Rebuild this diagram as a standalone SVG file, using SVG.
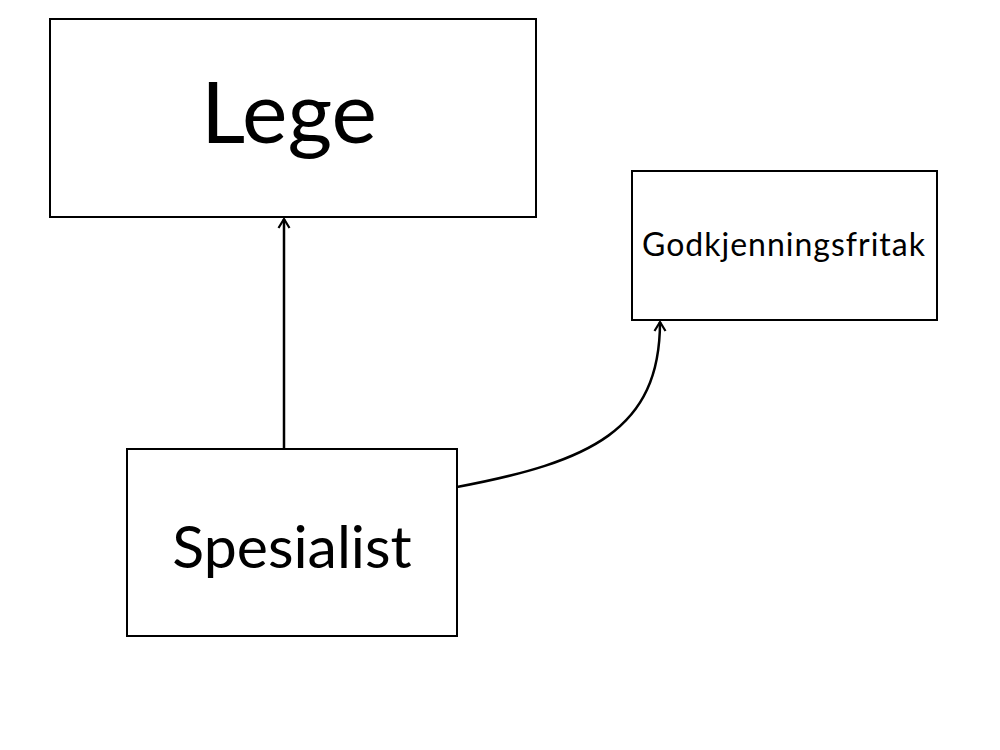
<svg xmlns="http://www.w3.org/2000/svg" width="1000" height="750" viewBox="0 0 1000 750">
<style>
.box{fill:#fff;stroke:#000;stroke-width:2}
.t{font-family:Lato,"Open Sans","Liberation Sans",sans-serif;fill:#000;text-anchor:middle}
.c{fill:none;stroke:#000;stroke-width:2.5}
</style>
<defs>
<marker id="ah" viewBox="0 0 14 14" refX="12" refY="7" markerWidth="14" markerHeight="14" markerUnits="userSpaceOnUse" orient="auto">
<path d="M3,1.5 L12,7 L3,12.5" fill="none" stroke="#000" stroke-width="2.2"/>
</marker>
</defs>
<rect width="1000" height="750" fill="#fff"/>
<g id="lege"><rect class="box" x="50" y="19" width="486" height="198"/><text class="t" x="289" y="143" font-size="86">Lege</text></g>
<g id="godkjenningsfritak"><rect class="box" x="632" y="171" width="305" height="149"/><text class="t" x="784" y="256" font-size="32" letter-spacing="1">Godkjenningsfritak</text></g>
<g id="spesialist"><rect class="box" x="127" y="449" width="330" height="187"/><text class="t" x="292" y="568" font-size="59">Spesialist</text></g>
<g id="connectors">
<path class="c" d="M284,449 L284,219" marker-end="url(#ah)"/>
<path class="c" d="M457,487 C590,462 660,430 660,322" marker-end="url(#ah)"/>
</g>
</svg>
